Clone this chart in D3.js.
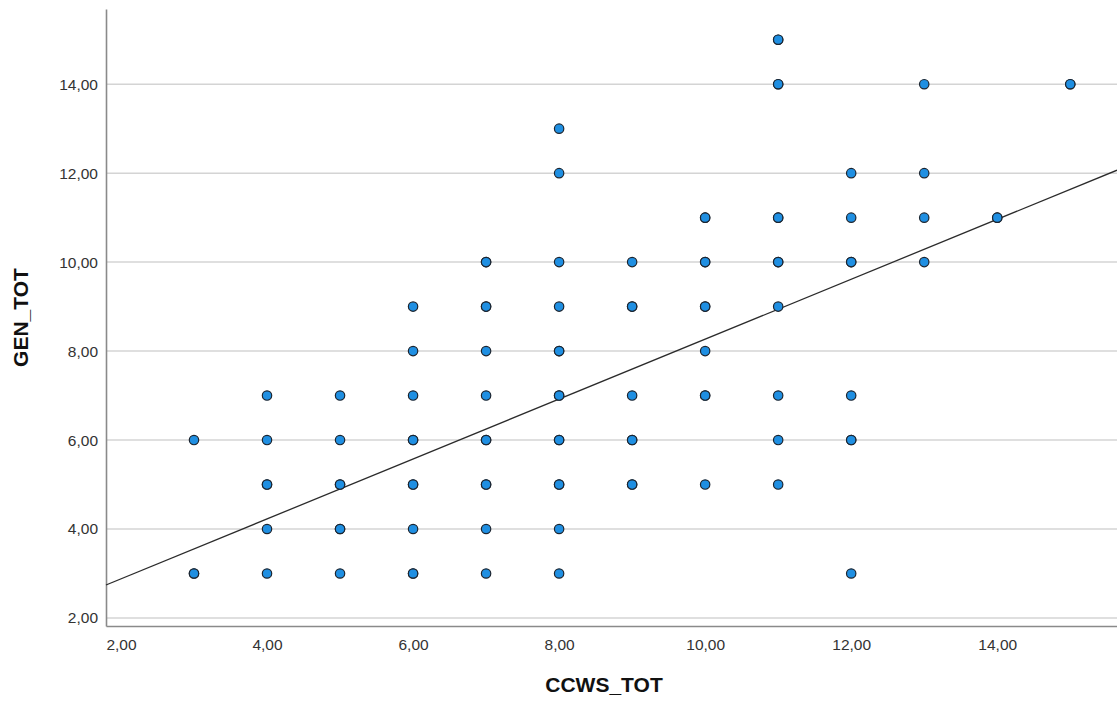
<!DOCTYPE html>
<html>
<head>
<meta charset="utf-8">
<script src="https://cdn.jsdelivr.net/npm/d3@7"></script>
<style>
  html, body { margin: 0; padding: 0; background: #fff; }
  svg { display: block; font-family: Arial, "Liberation Sans", sans-serif; }
</style>
</head>
<body>
<svg id="chart" width="1117" height="706"></svg>
<script>
// Observations: CCWS_TOT (x), GEN_TOT (y), and number of cases at that spot
const ccws = [3,3, 4,4,4,4,4, 5,5,5,5,5, 6,6,6,6,6,6,6, 7,7,7,7,7,7,7,7,
              8,8,8,8,8,8,8,8,8,8, 9,9,9,9,9, 10,10,10,10,10,10,
              11,11,11,11,11,11,11,11, 12,12,12,12,12,12, 13,13,13,13, 14, 15];
const gen  = [6,3, 7,6,5,4,3, 7,6,5,4,3, 9,8,7,6,5,4,3, 10,9,8,7,6,5,4,3,
              13,12,10,9,8,7,6,5,4,3, 10,9,7,6,5, 11,10,9,8,7,5,
              15,14,11,10,9,7,6,5, 12,11,10,7,6,3, 14,12,11,10, 11, 14];
const cases = [1,2, 1,1,2,1,1, 1,1,2,2,1, 1,1,1,2,2,1,2, 2,2,1,1,2,2,1,1,
               1,1,1,1,2,2,2,2,1,1, 1,2,1,2,2, 2,2,2,1,2,1,
               2,2,2,2,1,1,1,1, 1,1,2,1,2,1, 1,1,1,1, 2, 2];

// Fit line (linear regression of GEN_TOT on CCWS_TOT)
const fitIntercept = 1.533;
const fitSlope = 0.6735;

const xTicks = [2, 4, 6, 8, 10, 12, 14];
const yTicks = [2, 4, 6, 8, 10, 12, 14];
const xDomain = [1.795, 15.64];
const yDomain = [1.82, 15.69];

const svg = d3.select("#chart");
const plotLeft = 106, plotRight = 1117, plotTop = 9, plotBottom = 626;

const x = d3.scaleLinear().domain(xDomain).range([plotLeft, plotRight]);
const y = d3.scaleLinear().domain(yDomain).range([plotBottom, plotTop]);
const fmt = v => d3.format(".2f")(v).replace(".", ",");

// horizontal gridlines
svg.append("g")
  .selectAll("line")
  .data(yTicks)
  .join("line")
  .attr("x1", plotLeft).attr("x2", plotRight)
  .attr("y1", d => y(d)).attr("y2", d => y(d))
  .attr("stroke", "#d4d4d4")
  .attr("stroke-width", 1.5);

// y axis
const yAxis = svg.append("g")
  .attr("transform", `translate(${plotLeft},0)`)
  .call(d3.axisLeft(y).tickValues(yTicks).tickFormat(fmt).tickSize(0).tickPadding(8));
yAxis.select(".domain").attr("stroke", "#8a8a8a").attr("stroke-width", 1.6);
yAxis.selectAll("text").attr("font-size", 15.5).attr("fill", "#333");

// x axis
const xAxis = svg.append("g")
  .attr("transform", `translate(0,${plotBottom})`)
  .call(d3.axisBottom(x).tickValues(xTicks).tickFormat(fmt).tickSize(0).tickPadding(13));
xAxis.select(".domain").attr("stroke", "#8a8a8a").attr("stroke-width", 1.6);
xAxis.selectAll("text").attr("font-size", 15.5).attr("fill", "#333");

// regression line
svg.append("line")
  .attr("x1", x(xDomain[0])).attr("y1", y(fitIntercept + fitSlope * xDomain[0]))
  .attr("x2", x(xDomain[1])).attr("y2", y(fitIntercept + fitSlope * xDomain[1]))
  .attr("stroke", "#2b2b2b")
  .attr("stroke-width", 1.3);

// scatter points; repeated cases are stacked on the same spot
const pts = [];
ccws.forEach((cx, i) => {
  for (let k = 0; k < cases[i]; k++) pts.push({ cx, gy: gen[i] });
});
svg.append("g")
  .selectAll("circle")
  .data(pts)
  .join("circle")
  .attr("cx", d => x(d.cx))
  .attr("cy", d => y(d.gy))
  .attr("r", 4.7)
  .attr("fill", "#1f8fe2")
  .attr("stroke", "#1c2530")
  .attr("stroke-width", 1.2);

// axis titles
svg.append("text")
  .attr("x", 604)
  .attr("y", 692)
  .attr("text-anchor", "middle")
  .attr("font-size", 21)
  .attr("font-weight", "bold")
  .attr("fill", "#111")
  .text("CCWS_TOT");

svg.append("text")
  .attr("transform", `translate(28,${(plotTop + plotBottom) / 2}) rotate(-90)`)
  .attr("text-anchor", "middle")
  .attr("font-size", 21)
  .attr("font-weight", "bold")
  .attr("fill", "#111")
  .text("GEN_TOT");
</script>
</body>
</html>
